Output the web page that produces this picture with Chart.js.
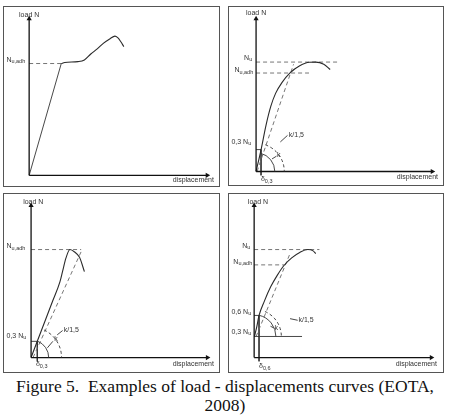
<!DOCTYPE html>
<html>
<head>
<meta charset="utf-8">
<script src="https://cdn.jsdelivr.net/npm/chart.js@4"></script>
<style>
  html, body { margin: 0; padding: 0; background: #fff; }
  body { width: 450px; height: 418px; position: relative; overflow: hidden; }
  canvas, .frame { position: absolute; }
  .frame { border: 1px solid #555; box-sizing: border-box; pointer-events: none; }
  #cap { position: absolute; left: 0; top: 377px; width: 450px; text-align: center;
         font: 17.5px/18.5px "Liberation Serif", "Times New Roman", serif; color: #111; }
</style>
</head>
<body>
<canvas id="c1"></canvas>
<canvas id="c2"></canvas>
<canvas id="c3"></canvas>
<canvas id="c4"></canvas>
<div id="cap">Figure 5.&nbsp; Examples of load - displacements curves (EOTA,<br>2008)</div>
<script>
// load in % of Nu, displacement in the same drawing units

// panel 1 — adhesion failure, load rises again
const p1RiseX = [0, 28.5];
const p1RiseY = [0, 100];
const p1TailX = [28.5, 31.6, 43.3, 49, 54.7, 60.4, 65.8, 71.8, 76.1, 78.6, 81.2, 84];
const p1TailY = [100, 100.9, 101.7, 103.2, 108.5, 113.1, 118, 122.2, 124.5, 123.1, 119.7, 115.1];
const p1NuAdh = 100;

// panel 2
const p2CurveX = [0, 4.6, 9.0, 13.4, 17.7, 23.6, 30.8, 39.6, 48.3, 54.1, 61.4, 67.2];
const p2CurveY = [0, 20.3, 42.2, 59.7, 71.4, 81.5, 90.2, 96.7, 99.9, 100, 98.0, 93.2];
const p2Nu = 100, p2NuAdh = 90, p2Lvl = 20, p2Delta = 4.5;
const p2SecX = [0.9, 34], p2SecY = [0, 98];

// panel 3
const p3CurveX = [0, 5, 13, 20, 26.5, 29, 32, 35.7, 40, 44.5, 49];
const p3CurveY = [0, 13.2, 34.3, 52.8, 70, 80, 92, 100, 97.7, 92.8, 79.6];
const p3NuAdh = 100, p3Lvl = 15, p3Delta = 5.7;
const p3SecX = [1.8, 46], p3SecY = [0, 98];

// panel 4 — starts at 0,3 Nu
const p4CurveX = [0.3, 2.5, 4.5, 9.5, 15.3, 21.2, 27.2, 34.5, 41.9, 49.3, 54.2, 56.6];
const p4CurveY = [19.5, 28.9, 39, 52.5, 65.7, 76.1, 85, 92.3, 97.3, 100, 98.8, 96.2];
const p4Nu = 100, p4NuAdh = 85.8, p4Lvl3 = 19.5, p4Lvl6 = 39, p4Delta = 4.5;
const p4SecX = [1.8, 32.7], p4SecY = [19.5, 95.6];

const axisTop = [140, 139.7, 140.7, 140.7];
const axisEnd = [158, 159.8, 162, 162.8];

const xy = (xs, ys) => xs.map((x, i) => ({ x, y: ys[i] }));
const seg = (x0, y0, x1, y1) => ({ x: [x0, x1], y: [y0, y1] });

function dataset(l) {
  const base = { data: xy(l.x, l.y), showLine: true, pointRadius: 0, fill: false, tension: 0 };
  if (l.kind === 'curve') return { ...base, borderColor: '#2a2a2a', borderWidth: 1.1, cubicInterpolationMode: 'monotone' };
  if (l.kind === 'dash') return { ...base, borderColor: '#666', borderWidth: 0.9, borderDash: [4, 3] };
  if (l.kind === 'axisX' || l.kind === 'axisY') {
    return { ...base, borderColor: '#111', borderWidth: 1.3, pointStyle: 'triangle',
      rotation: l.kind === 'axisX' ? 90 : 0, pointRadius: [0, 3], pointBackgroundColor: '#111',
      pointBorderColor: '#111', pointBorderWidth: 0 };
  }
  return { ...base, borderColor: '#333', borderWidth: 0.9 };
}

const notes = {
  id: 'notes',
  afterDatasetsDraw(chart, args, opts) {
    const { ctx } = chart, sx = chart.scales.x, sy = chart.scales.y;
    ctx.save();
    ctx.strokeStyle = '#333';
    ctx.lineWidth = 0.9;
    for (const a of opts.arcs) {
      const cx = sx.getPixelForValue(a.c[0]), cy = sy.getPixelForValue(a.c[1]);
      const r = sx.getPixelForValue(a.c[0] + a.r) - cx;
      const ang = Math.atan2(sy.getPixelForValue(a.to[1]) - cy, sx.getPixelForValue(a.to[0]) - cx);
      ctx.setLineDash(a.dash ? [3, 2.5] : []);
      ctx.beginPath();
      ctx.arc(cx, cy, r, ang, 0);
      ctx.stroke();
    }
    ctx.setLineDash([]);
    ctx.fillStyle = '#333';
    ctx.textBaseline = 'middle';
    ctx.textAlign = 'left';
    const mainFont = '7px "Liberation Sans", Arial, sans-serif';
    const subFont = '5.5px "Liberation Sans", Arial, sans-serif';
    for (const t of opts.texts) {
      const px = sx.getPixelForValue(t.at[0]), py = sy.getPixelForValue(t.at[1]);
      ctx.font = mainFont;
      const w1 = ctx.measureText(t.text).width;
      ctx.font = subFont;
      const w2 = t.sub ? ctx.measureText(t.sub).width : 0;
      const w = w1 + w2;
      const left = t.align === 'right' ? px - w : t.align === 'center' ? px - w / 2 : px;
      ctx.font = mainFont;
      ctx.fillText(t.text, left, py);
      if (t.sub) { ctx.font = subFont; ctx.fillText(t.sub, left + w1, py + 2); }
    }
    ctx.restore();
  }
};

function panel(id, box, origin, s, lines, texts, arcs) {
  const [l, t, r, b] = box, [ox, oy] = origin;
  const cv = document.getElementById(id);
  cv.width = r - l; cv.height = b - t;
  cv.style.left = l + 'px'; cv.style.top = t + 'px';
  const fr = document.createElement('div');
  fr.className = 'frame';
  Object.assign(fr.style, { left: l + 'px', top: t + 'px', width: (r - l) + 'px', height: (b - t) + 'px' });
  document.body.appendChild(fr);
  new Chart(cv, {
    type: 'scatter',
    data: { datasets: lines.map(dataset) },
    plugins: [notes],
    options: {
      responsive: false, animation: false, devicePixelRatio: 1,
      layout: { padding: 0 },
      plugins: { legend: { display: false }, tooltip: { enabled: false }, notes: { texts, arcs } },
      scales: {
        x: { type: 'linear', display: false, min: (l - ox) / s, max: (r - ox) / s },
        y: { type: 'linear', display: false, min: (oy - b) / s, max: (oy - t) / s },
      },
    },
  });
}

const axes = i => [
  { kind: 'axisY', x: [0, 0], y: [0, axisTop[i]] },
  { kind: 'axisX', x: [0, axisEnd[i]], y: [0, 0] },
];

panel('c1', [3, 6, 220, 187], [26, 179], 1.17, [
  ...axes(0),
  { kind: 'straight', x: p1RiseX, y: p1RiseY },
  { kind: 'curve', x: p1TailX, y: p1TailY },
  { kind: 'dash', ...seg(0, p1NuAdh, p1RiseX[1], p1NuAdh) },
], [
  { text: 'load N', at: [0, 143.6], align: 'center' },
  { text: 'displacement', at: [164, -4.3], align: 'right' },
  { text: 'N', sub: 'u,adh', at: [-3.5, 103.4], align: 'right' },
], []);

panel('c2', [228, 6, 444, 186], [253, 175], 1.145, [
  ...axes(1),
  { kind: 'curve', x: p2CurveX, y: p2CurveY },
  { kind: 'dash', ...seg(0, p2Nu, 76, p2Nu) },
  { kind: 'dash', ...seg(0, p2NuAdh, 48, p2NuAdh) },
  { kind: 'dash', x: p2SecX, y: p2SecY },
  { kind: 'thin', ...seg(0, p2Lvl, p2Delta, p2Lvl) },
  { kind: 'thin', ...seg(p2Delta, p2Lvl, p2Delta, -3.5) },
  { kind: 'thin', ...seg(14.5, 11.5, 18.5, 14) },
  { kind: 'thin', ...seg(22, 27, 28.5, 33) },
], [
  { text: 'load N', at: [0, 145], align: 'center' },
  { text: 'displacement', at: [165, -5.2], align: 'right' },
  { text: 'N', sub: 'u', at: [-3.5, 104], align: 'right' },
  { text: 'N', sub: 'u,adh', at: [-2.6, 92.6], align: 'right' },
  { text: '0,3 N', sub: 'u', at: [-4.4, 27], align: 'right' },
  { text: 'δ', sub: '0,3', at: [4.4, -7], align: 'left' },
  { text: 'k', at: [19, 14.8], align: 'left' },
  { text: 'k/1,5', at: [29.7, 33.2], align: 'left' },
], [
  { c: [0, 0], r: 17, to: [p2CurveX[1], p2CurveY[1]], dash: false },
  { c: [0, 0], r: 25.6, to: [p2SecX[1], p2SecY[1]], dash: true },
]);

panel('c3', [3, 193, 220, 373], [28, 361], 1.13, [
  ...axes(2),
  { kind: 'curve', x: p3CurveX, y: p3CurveY },
  { kind: 'dash', ...seg(0, p3NuAdh, 46, p3NuAdh) },
  { kind: 'dash', x: p3SecX, y: p3SecY },
  { kind: 'thin', ...seg(0, p3Lvl, p3Delta, p3Lvl) },
  { kind: 'thin', ...seg(p3Delta, p3Lvl, p3Delta, -3.5) },
  { kind: 'thin', ...seg(15, 9, 20, 15) },
  { kind: 'thin', ...seg(24, 21, 29, 25) },
], [
  { text: 'load N', at: [2, 144], align: 'center' },
  { text: 'displacement', at: [168, -6.2], align: 'right' },
  { text: 'N', sub: 'u,adh', at: [-5.3, 103], align: 'right' },
  { text: '0,3 N', sub: 'u', at: [-4.4, 20], align: 'right' },
  { text: 'δ', sub: '0,3', at: [4.5, -6.5], align: 'left' },
  { text: 'k', at: [21.2, 16.8], align: 'left' },
  { text: 'k/1,5', at: [30, 25.7], align: 'left' },
], [
  { c: [0, 0], r: 16.2, to: [p3Delta, p3Lvl], dash: false },
  { c: [0, 0], r: 28, to: [p3SecX[1], p3SecY[1]], dash: true },
]);

panel('c4', [228, 193, 444, 373], [251, 361], 1.13, [
  ...axes(3),
  { kind: 'curve', x: p4CurveX, y: p4CurveY },
  { kind: 'dash', ...seg(0, p4Nu, 60, p4Nu) },
  { kind: 'dash', ...seg(0, p4NuAdh, 27.4, p4NuAdh) },
  { kind: 'dash', x: p4SecX, y: p4SecY },
  { kind: 'thin', ...seg(0, p4Lvl3, 44, p4Lvl3) },
  { kind: 'thin', ...seg(0, p4Lvl6, p4Delta, p4Lvl6) },
  { kind: 'thin', ...seg(p4Delta, p4Lvl6, p4Delta, -3.5) },
  { kind: 'thin', ...seg(15, 29, 18, 27.4) },
  { kind: 'thin', ...seg(33, 36, 40, 34.5) },
], [
  { text: 'load N', at: [3.5, 144], align: 'center' },
  { text: 'displacement', at: [168, -6.2], align: 'right' },
  { text: 'N', sub: 'u', at: [-3.5, 103.5], align: 'right' },
  { text: 'N', sub: 'u,adh', at: [-1.8, 88.5], align: 'right' },
  { text: '0,6 N', sub: 'u', at: [-2.7, 42.5], align: 'right' },
  { text: '0,3 N', sub: 'u', at: [-2.7, 23.9], align: 'right' },
  { text: 'δ', sub: '0,6', at: [4.5, -8], align: 'left' },
  { text: 'k', at: [18.6, 27.4], align: 'left' },
  { text: 'k/1,5', at: [40.7, 34.5], align: 'left' },
], [
  { c: [0, p4Lvl3], r: 20, to: [p4CurveX[2], p4CurveY[2]], dash: false },
  { c: [0, p4Lvl3], r: 25, to: [p4SecX[1], p4SecY[1]], dash: true },
]);
</script>
</body>
</html>
